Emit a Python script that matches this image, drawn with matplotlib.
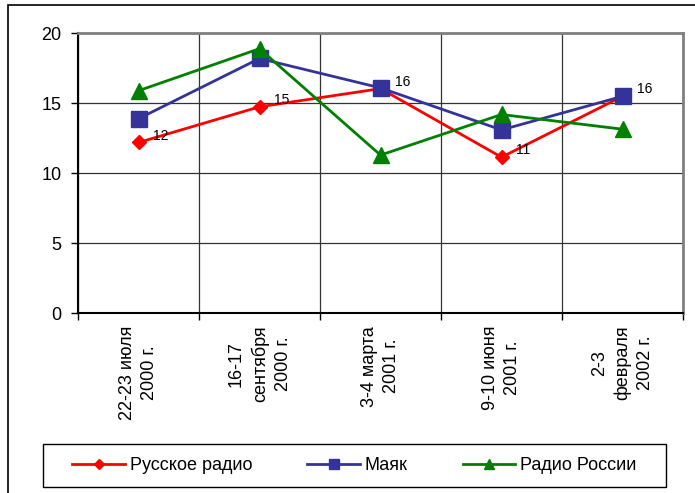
import matplotlib
matplotlib.use("Agg")
import matplotlib.pyplot as plt
from matplotlib.patches import Rectangle

categories = ["22-23 июля\n2000 г.", "16-17\nсентября\n2000 г.", "3-4 марта\n2001 г.",
              "9-10 июня\n2001 г.", "2-3\nфевраля\n2002 г."]
russkoe = [12.2, 14.75, 16.05, 11.15, 15.5]
mayak = [13.9, 18.2, 16.1, 13.1, 15.5]
rossii = [15.9, 18.9, 11.3, 14.2, 13.15]
labels_russkoe = ["12", "15", "16", "11", "16"]
yticks = [0, 5, 10, 15, 20]

plt.rcParams['font.family'] = ['Liberation Sans', 'DejaVu Sans']

fig = plt.figure(figsize=(6.95, 4.93), dpi=100)
W, H = 695, 493
ax = fig.add_axes([78/W, 1-313.3/H, (683-78)/W, (313.3-33.3)/H])

x = list(range(len(categories)))
l1, = ax.plot(x, russkoe, color='#ff0000', lw=2, marker='D', ms=7.5, label='Русское радио', zorder=3)
l2, = ax.plot(x, mayak, color='#333399', lw=2, marker='s', ms=11, label='Маяк', zorder=3)
l3, = ax.plot(x, rossii, color='#008000', lw=2, marker='^', ms=11, label='Радио России', zorder=3)

for xi, yi, t in zip(x, russkoe, labels_russkoe):
    ax.annotate(t, (xi, yi), xytext=(10.5, 5), textcoords='offset points',
                fontsize=10, va='center', ha='left', zorder=4)

ax.set_xlim(-0.5, len(categories) - 0.5)
ax.set_ylim(0, 20)
ax.set_yticks(yticks)
ax.set_yticklabels([str(v) for v in yticks], fontsize=13)
ax.set_xticks([i - 0.5 for i in range(len(categories) + 1)])
ax.set_xticklabels([])
ax.set_xticks(x, minor=True)
ax.set_xticklabels(categories, minor=True, rotation=90, fontsize=13, ha='center', va='top',
                   multialignment='center', linespacing=1.45)
ax.tick_params(axis='x', which='minor', length=0, pad=9)
ax.tick_params(axis='x', which='major', length=5, direction='out', color='black', width=1)
ax.tick_params(axis='y', length=5, direction='out', color='black', pad=7, width=1)
ax.grid(True, which='major', color='#333333', lw=0.9)
for s in ['top', 'right']:
    ax.spines[s].set_color('#808080')
    ax.spines[s].set_linewidth(2)
for s in ['left', 'bottom']:
    ax.spines[s].set_color('black')
    ax.spines[s].set_linewidth(1.5)

cx = (43 + 666) / 2 / W
cy = 1 - (444 + 487) / 2 / H
leg = fig.legend(handles=[l1, l2, l3], loc='center', bbox_to_anchor=(cx, cy),
                 ncol=3, fontsize=13, frameon=False, handlelength=2.9, handletextpad=0.28,
                 columnspacing=3.05, borderaxespad=0, borderpad=0, markerscale=0.65)

fig.patches.append(Rectangle((43/W, 1-487/H), (666-43)/W, (487-444)/H, transform=fig.transFigure,
                             fill=False, edgecolor='black', lw=1))
fig.patches.append(Rectangle((8/W, -0.1), 1.2, 1 - 4.5/H + 0.1, transform=fig.transFigure,
                             fill=False, edgecolor='black', lw=1.2))
fig.savefig("out.png", dpi=100)
